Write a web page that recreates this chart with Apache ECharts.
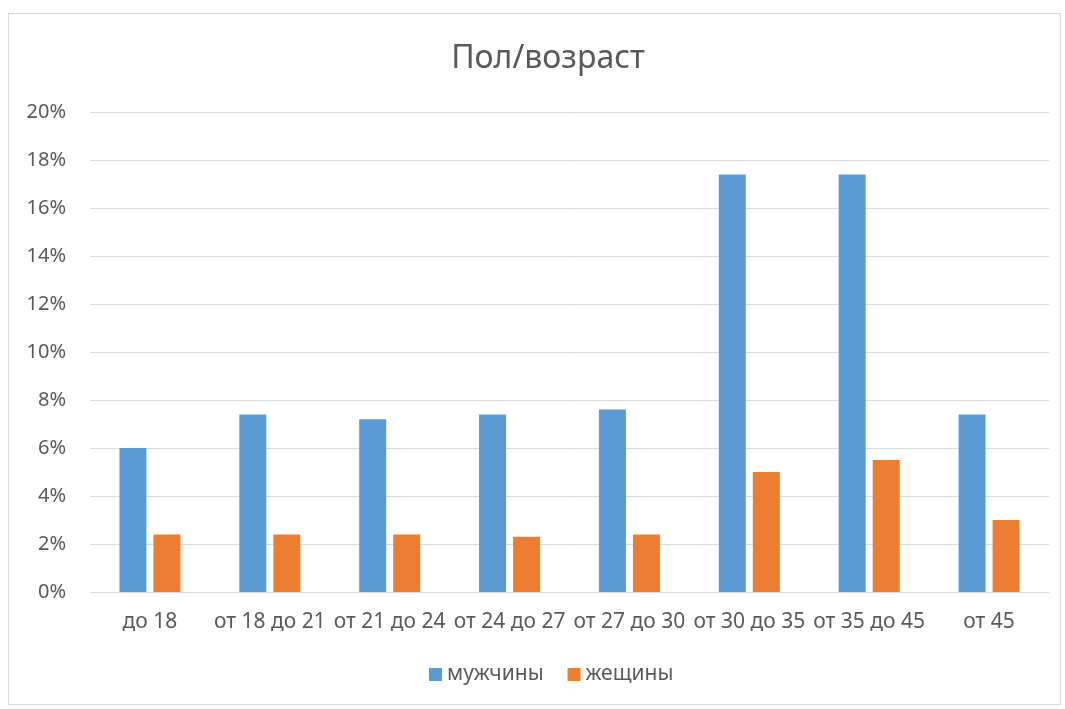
<!DOCTYPE html>
<html>
<head>
<meta charset="utf-8">
<script src="https://cdn.jsdelivr.net/npm/echarts@6/dist/echarts.min.js"></script>
<style>
  html, body { margin: 0; padding: 0; background: #fff; }
  #frame { position: absolute; left: 8px; top: 13px; width: 1053px; height: 692px; border: 1px solid #d9d9d9; box-sizing: border-box; }
  #chart { position: absolute; left: 0; top: 0; width: 1065px; height: 709px; }
</style>
</head>
<body>
<div id="frame"></div>
<div id="chart"></div>
<script>
const categories = ['до 18', 'от 18 до 21', 'от 21 до 24', 'от 24 до 27', 'от 27 до 30', 'от 30 до 35', 'от 35 до 45', 'от 45'];
const men = [6.0, 7.4, 7.2, 7.4, 7.6, 17.4, 17.4, 7.4];
const women = [2.4, 2.4, 2.4, 2.3, 2.4, 5.0, 5.5, 3.0];
const seriesNames = ['мужчины', 'жещины'];

const font = '"Noto Sans", "Liberation Sans", sans-serif';
const chart = echarts.init(document.getElementById('chart'));
chart.setOption({
  animation: false,
  textStyle: { fontFamily: font },
  title: {
    text: 'Пол/возраст',
    left: 543, top: 38, textAlign: 'center',
    textStyle: { fontSize: 32, fontWeight: 'normal', color: '#595959', fontFamily: font }
  },
  legend: {
    data: seriesNames,
    bottom: 19, left: 424,
    itemWidth: 13, itemHeight: 13, itemGap: 24,
    icon: 'rect',
    textStyle: { fontSize: 21, color: '#595959', fontFamily: font }
  },
  grid: { left: 90, right: 16, top: 112, bottom: 117, containLabel: false },
  xAxis: {
    type: 'category', data: categories,
    axisLine: { lineStyle: { color: '#d9d9d9', width: 1 } },
    axisTick: { show: false },
    axisLabel: { color: '#595959', fontSize: 21, margin: 20, interval: 0, fontFamily: font }
  },
  yAxis: {
    type: 'value', min: 0, max: 20, interval: 2,
    axisLine: { show: false }, axisTick: { show: false },
    splitLine: { lineStyle: { color: '#d9d9d9', width: 1 } },
    axisLabel: { color: '#595959', fontSize: 20, margin: 24, formatter: v => v + '%', fontFamily: font }
  },
  series: [
    { name: seriesNames[0], type: 'bar', data: men, barWidth: 27, barGap: '26%', itemStyle: { color: '#5b9bd5' } },
    { name: seriesNames[1], type: 'bar', data: women, barWidth: 27, itemStyle: { color: '#ed7d31' } }
  ]
});
</script>
</body>
</html>
